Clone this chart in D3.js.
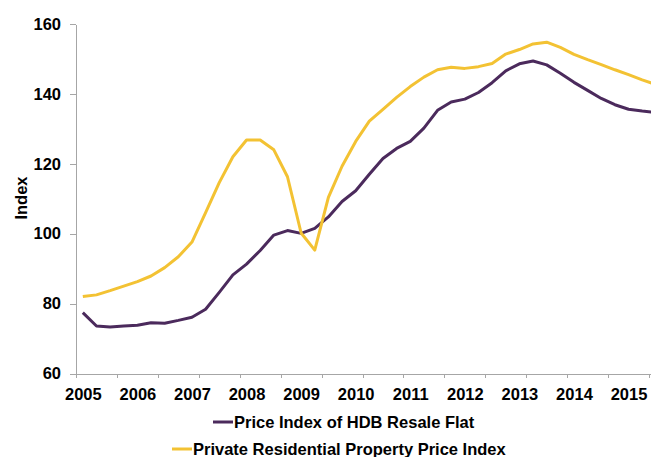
<!DOCTYPE html>
<html>
<head>
<meta charset="utf-8">
<script src="https://cdn.jsdelivr.net/npm/d3@7"></script>
<style>
  html, body { margin: 0; padding: 0; background: #fff; }
  svg { display: block; font-family: "Liberation Sans", Arial, sans-serif; }
  .axis path, .axis line { stroke: #a6a6a6; shape-rendering: crispEdges; }
  .axis text { font-size: 16.5px; font-weight: bold; fill: #000; }
</style>
</head>
<body>
<svg id="chart" width="651" height="457"></svg>
<script>
// quarterly series, 2005 Q1 onward (the right edge of the picture cuts off after 2015 Q3)
const quarters = d3.range(43).map((i) => `${2005 + Math.floor(i / 4)}Q${(i % 4) + 1}`);

const hdbResale = [
  77.4, 73.6, 73.3, 73.6, 73.8, 74.5, 74.4, 75.2, 76.1, 78.4,
  83.2, 88.2, 91.3, 95.2, 99.6, 100.9, 100.1, 101.5, 104.8, 109.2,
  112.3, 117.0, 121.5, 124.4, 126.4, 130.2, 135.3, 137.7, 138.5, 140.4,
  143.2, 146.6, 148.6, 149.4, 148.3, 145.9, 143.3, 141.0, 138.7, 136.9,
  135.6, 135.1, 134.7
];

const privateResidential = [
  82.0, 82.5, 83.7, 85.0, 86.3, 87.9, 90.3, 93.4, 97.6, 106.0,
  114.6, 122.0, 126.8, 126.8, 124.0, 116.3, 100.2, 95.3, 110.4, 119.3,
  126.4, 132.2, 135.6, 139.0, 142.1, 144.8, 146.9, 147.6, 147.3, 147.8,
  148.7, 151.4, 152.7, 154.3, 154.8, 153.3, 151.3, 149.8, 148.4, 146.9,
  145.5, 144.0, 142.7
];

const seriesNames = ['Price Index of HDB Resale Flat', 'Private Residential Property Price Index'];
const seriesColors = ['#4b2a5c', '#f3c233'];
const yTicks = [60, 80, 100, 120, 140, 160];
const yearLabels = d3.range(2005, 2016).map(String);

const svg = d3.select('#chart');
const plotLeft = 76, plotTop = 24, plotBottom = 373.5;
const step = 13.643; // px per quarter

const x = d3.scaleLinear().domain([0, 44]).range([plotLeft, plotLeft + 44 * step]);
const y = d3.scaleLinear().domain([60, 160]).range([plotBottom, plotTop]);

// y axis
svg.append('g')
  .attr('class', 'axis')
  .attr('transform', `translate(${plotLeft},0)`)
  .call(d3.axisLeft(y).tickValues(yTicks).tickSize(6).tickSizeOuter(0).tickPadding(9));

// x axis: tick marks every 3 quarters, year labels centred on each Q1
svg.append('g')
  .attr('class', 'axis')
  .attr('transform', `translate(0,${plotBottom})`)
  .call(d3.axisBottom(x).tickValues(d3.range(0, 45, 3)).tickSize(4).tickSizeOuter(0).tickFormat(''));

svg.append('g')
  .attr('class', 'axis')
  .attr('transform', `translate(0,${plotBottom})`)
  .call(d3.axisBottom(x)
    .tickValues(yearLabels.map((_, i) => i * 4 + 0.5))
    .tickSize(0).tickPadding(15)
    .tickFormat((d, i) => yearLabels[i]))
  .call((g) => g.select('.domain').remove());

svg.append('text')
  .attr('transform', 'translate(27,198) rotate(-90)')
  .attr('text-anchor', 'middle')
  .style('font-size', '16.5px')
  .style('font-weight', 'bold')
  .text('Index');

const line = d3.line()
  .x((d, i) => x(i + 0.5))
  .y((d) => y(d));

[hdbResale, privateResidential].forEach((vals, k) => {
  svg.append('path')
    .datum(vals)
    .attr('fill', 'none')
    .attr('stroke', seriesColors[k])
    .attr('stroke-width', 3)
    .attr('stroke-linejoin', 'round')
    .attr('d', line);
});

// legend, two centred rows
const legendRows = [{ x: 213, y: 422 }, { x: 172, y: 449 }];
seriesNames.forEach((name, k) => {
  const g = svg.append('g').attr('transform', `translate(${legendRows[k].x},${legendRows[k].y})`);
  g.append('line')
    .attr('x1', 0).attr('x2', 20)
    .attr('stroke', seriesColors[k])
    .attr('stroke-width', 3);
  g.append('text')
    .attr('x', 21)
    .attr('dy', '0.36em')
    .style('font-size', '16.5px')
    .style('font-weight', 'bold')
    .text(name);
});
</script>
</body>
</html>
